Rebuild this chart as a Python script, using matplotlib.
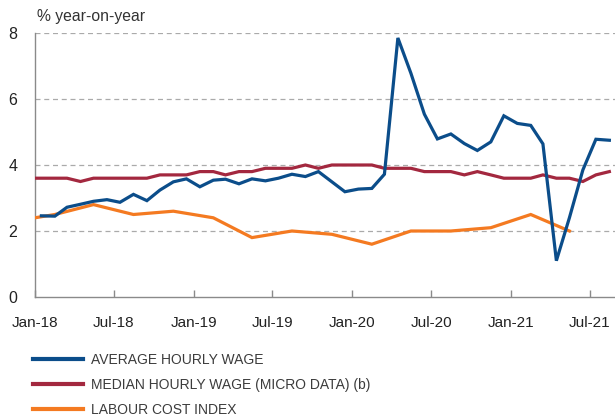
import matplotlib
matplotlib.use("Agg")
import matplotlib.pyplot as plt
import datetime as dt

# ---- data ----
avg_start = (2018, 1)
avg_wage = [2.46, 2.45, 2.72, 2.81, 2.90, 2.95, 2.87, 3.11, 2.92, 3.24, 3.49, 3.58,
            3.34, 3.54, 3.57, 3.43, 3.58, 3.52, 3.60, 3.72, 3.65, 3.80, 3.49, 3.19,
            3.27, 3.29, 3.72, 7.85, 6.78, 5.54, 4.79, 4.94, 4.65, 4.44, 4.70, 5.49,
            5.26, 5.20, 4.64, 1.10, 2.40, 3.85, 4.78, 4.75]

med_start = (2017, 12)
med_wage = [3.6, 3.6, 3.6, 3.6, 3.5, 3.6, 3.6, 3.6, 3.6, 3.6, 3.7, 3.7, 3.7,
            3.8, 3.8, 3.7, 3.8, 3.8, 3.9, 3.9, 3.9, 4.0, 3.9, 4.0, 4.0,
            4.0, 4.0, 3.9, 3.9, 3.9, 3.8, 3.8, 3.8, 3.7, 3.8, 3.7, 3.6,
            3.6, 3.6, 3.7, 3.6, 3.6, 3.5, 3.7, 3.8]

lci_start = (2017, 11)
lci = [2.3, 2.5, 2.8, 2.5, 2.6, 2.4, 1.8, 2.0, 1.9, 1.6, 2.0, 2.0, 2.1, 2.5, 2.0]

tick_labels = ["Jan-18", "Jul-18", "Jan-19", "Jul-19", "Jan-20", "Jul-20", "Jan-21", "Jul-21"]
yticks = [0, 2, 4, 6, 8]

names = ["AVERAGE HOURLY WAGE", "MEDIAN HOURLY WAGE (MICRO DATA) (b)", "LABOUR COST INDEX"]
colors = ["#0b4d8a", "#a3283f", "#f47a21"]


def month_dates(start, n, step=1):
    y, m = start
    out = []
    for k in range(n):
        mm = m - 1 + k * step
        out.append(dt.date(y + mm // 12, mm % 12 + 1, 15))
    return out


def tick_dates(labels):
    mon = {"Jan": 1, "Jul": 7}
    return [dt.date(2000 + int(l[4:]), mon[l[:3]], 1) for l in labels]


fig = plt.figure(figsize=(6.15, 4.16), dpi=100)
ax = fig.add_axes([35.3 / 615, 1 - 297 / 416, 1 - 35.3 / 615, (297 - 33) / 416])

lw = 2.3
l1, = ax.plot(month_dates(avg_start, len(avg_wage)), avg_wage, color=colors[0], lw=lw,
              solid_joinstyle="miter", label=names[0], zorder=4)
l2, = ax.plot(month_dates(med_start, len(med_wage)), med_wage, color=colors[1], lw=lw,
              solid_joinstyle="miter", label=names[1], zorder=3)
l3, = ax.plot(month_dates(lci_start, len(lci), 3), lci, color=colors[2], lw=lw,
              solid_joinstyle="miter", label=names[2], zorder=3)

ax.set_xlim(dt.date(2018, 1, 1), dt.date(2021, 8, 28))
ax.set_ylim(0, 8)
ax.set_yticks(yticks)
ax.set_yticklabels([str(v) for v in yticks])
ax.set_xticks(tick_dates(tick_labels))
ax.set_xticklabels(tick_labels)

for v in yticks[1:]:
    ax.axhline(v, color="#aaaaaa", lw=0.9, ls=(0, (4, 3)), zorder=1)

for s in ["top", "right"]:
    ax.spines[s].set_visible(False)
for s in ["left", "bottom"]:
    ax.spines[s].set_color("#8a8a8a")
    ax.spines[s].set_linewidth(1.0)

ax.tick_params(axis="y", length=0, pad=13, labelsize=11.5, labelcolor="#222222")
ax.tick_params(axis="x", direction="in", length=5, width=1.0, color="#8a8a8a",
               pad=13.5, labelsize=11, labelcolor="#222222")
for lab in ax.get_xticklabels() + ax.get_yticklabels():
    lab.set_family(["Liberation Sans", "DejaVu Sans"])

fig.text(37 / 615, 1 - 17 / 416, "% year-on-year", ha="left", va="center",
         fontsize=11.3, color="#333333", family=["Liberation Sans", "DejaVu Sans"])

leg = fig.legend(handles=[l1, l2, l3], loc="upper left",
                 bbox_to_anchor=(33 / 615, 1 - 353 / 416), frameon=False,
                 borderpad=0, borderaxespad=0, handlelength=3.6, handletextpad=0.6,
                 labelspacing=0.8,
                 prop={"family": ["Liberation Sans", "DejaVu Sans"], "size": 10})
for t in leg.get_texts():
    t.set_color("#3c3c3c")
for h in leg.get_lines():
    h.set_linewidth(3.0)

fig.savefig("out.png", dpi=100)
